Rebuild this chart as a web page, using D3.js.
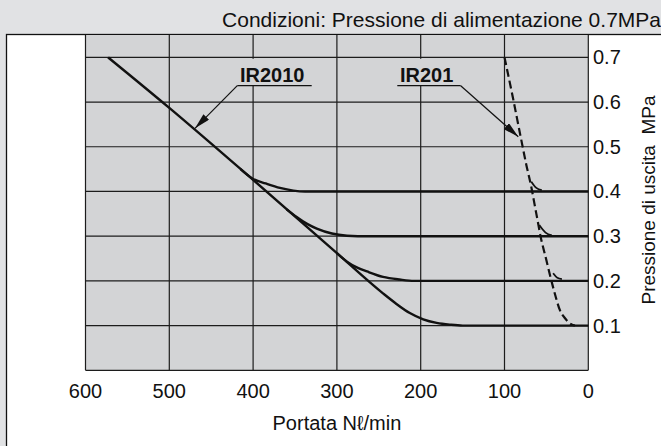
<!DOCTYPE html>
<html>
<head>
<meta charset="utf-8">
<script src="https://cdn.jsdelivr.net/npm/d3@7"></script>
<style>
  body { margin: 0; background: #e1e2e4; }
  svg { display: block; font-family: "Liberation Sans", Arial, sans-serif; }
</style>
</head>
<body>
<div id="chart"></div>
<script>
// Data (flow Nl/min, outlet pressure MPa)
const flowTicks = [600, 500, 400, 300, 200, 100, 0];
const pressureTicks = [0.1, 0.2, 0.3, 0.4, 0.5, 0.6, 0.7];

// IR2010 set curves
const ir2010_01 = [[573, 0.7], [500, 0.587], [400, 0.426], [300, 0.262], [245, 0.172], [230, 0.15], [213, 0.128], [197, 0.114], [181, 0.106], [165, 0.102], [150, 0.1], [0, 0.1]];
const ir2010_02 = [[300, 0.262], [288, 0.243], [275, 0.229], [264, 0.221], [245, 0.209], [225, 0.203], [208, 0.2], [0, 0.2]];
const ir2010_03 = [[360, 0.36], [348, 0.343], [335, 0.327], [324, 0.317], [306, 0.306], [288, 0.301], [275, 0.3], [0, 0.3]];
const ir2010_04 = [[415, 0.45], [400, 0.428], [385, 0.418], [368, 0.408], [352, 0.402], [338, 0.4], [0, 0.4]];

// IR201 (dashed) and its small set hooks
const ir201 = [[100, 0.7], [90, 0.61], [81, 0.525], [74, 0.46], [68, 0.41], [64, 0.37], [60.5, 0.335], [57, 0.3], [50.5, 0.25], [44, 0.2], [39, 0.165], [34, 0.135], [28, 0.117], [22, 0.105], [16, 0.1]];
const ir201_04 = [[68, 0.422], [62, 0.408], [55.5, 0.403]];
const ir201_03 = [[58.5, 0.325], [51, 0.308], [43.5, 0.302]];
const ir201_02 = [[42, 0.217], [37, 0.207], [31.5, 0.204]];

const title = "Condizioni: Pressione di alimentazione 0.7MPa";
const xTitle = "Portata N\u2113/min";
const yTitle = "Pressione di uscita  MPa";

const width = 661;
const height = 446;
const plot = { left: 85.5, right: 588.3, top: 35, bottom: 370.3 };
const plotFill = "#d3d4d6";
const ink = "#111";

function drawChart() {
  const svg = d3.select("#chart").append("svg")
    .attr("width", width)
    .attr("height", height);

  const xScale = d3.scaleLinear().domain([600, 0]).range([plot.left, plot.right]);
  const yScale = d3.scaleLinear().domain([0, 0.75]).range([plot.bottom, plot.top]);

  const defs = svg.append("defs");
  defs.append("marker")
    .attr("id", "arrow")
    .attr("viewBox", "0 0 16 8")
    .attr("refX", 16).attr("refY", 4)
    .attr("markerWidth", 16).attr("markerHeight", 8)
    .attr("markerUnits", "userSpaceOnUse")
    .attr("orient", "auto")
    .append("path")
    .attr("d", "M0,0L16,4L0,8Z")
    .attr("fill", ink);

  // background + white panel
  svg.append("rect").attr("width", width).attr("height", height).attr("fill", "#e1e2e4");
  svg.append("rect")
    .attr("x", 6.5).attr("y", 34.5)
    .attr("width", 700).attr("height", 500)
    .attr("fill", "#fff").attr("stroke", ink).attr("stroke-width", 1.3);

  // plot area
  svg.append("rect")
    .attr("x", plot.left).attr("y", plot.top)
    .attr("width", plot.right - plot.left).attr("height", plot.bottom - plot.top)
    .attr("fill", plotFill);

  // gridlines
  const grid = svg.append("g").attr("stroke", "#1c1c1c").attr("stroke-width", 1.2);
  grid.selectAll(".v").data(flowTicks).join("line")
    .attr("x1", (d) => xScale(d)).attr("x2", (d) => xScale(d))
    .attr("y1", plot.top).attr("y2", plot.bottom);
  grid.selectAll(".h").data(pressureTicks.concat([0])).join("line")
    .attr("x1", plot.left).attr("x2", plot.right)
    .attr("y1", (d) => yScale(d)).attr("y2", (d) => yScale(d));

  // tick labels
  svg.append("g").selectAll("text").data(flowTicks).join("text")
    .attr("x", (d) => xScale(d)).attr("y", 398)
    .attr("text-anchor", "middle")
    .attr("font-size", 20).attr("fill", ink)
    .text((d) => d);
  svg.append("g").selectAll("text").data(pressureTicks).join("text")
    .attr("x", 593).attr("y", (d) => yScale(d) + 7)
    .attr("font-size", 20).attr("fill", ink)
    .text((d) => d3.format(".1f")(d));

  // axis titles
  svg.append("text")
    .attr("x", (plot.left + plot.right) / 2).attr("y", 430)
    .attr("text-anchor", "middle").attr("font-size", 20).attr("fill", ink)
    .text(xTitle);
  svg.append("text")
    .attr("transform", "translate(655,200) rotate(-90)")
    .attr("text-anchor", "middle").attr("font-size", 19).attr("fill", ink)
    .style("white-space", "pre")
    .text(yTitle);
  svg.append("text")
    .attr("x", 661).attr("y", 26.5)
    .attr("text-anchor", "end").attr("font-size", 21).attr("fill", ink)
    .text(title);

  // curves
  const line = d3.line()
    .x((d) => xScale(d[0]))
    .y((d) => yScale(d[1]))
    .curve(d3.curveMonotoneX);

  const curves = svg.append("g").attr("fill", "none").attr("stroke", ink);
  [ir2010_04, ir2010_03, ir2010_02, ir2010_01].forEach((s) => {
    curves.append("path").attr("d", line(s)).attr("stroke-width", 2.4);
  });
  [ir201_04, ir201_03, ir201_02].forEach((s) => {
    curves.append("path").attr("d", line(s)).attr("stroke-width", 1.8);
  });
  curves.append("path")
    .attr("d", line(ir201))
    .attr("stroke-width", 2.2)
    .attr("stroke-dasharray", "8,4");

  // labels with leader arrows
  const labels = [
    { text: "IR2010", x0: 237.3, x1: 311.7, tx: 240, tip: [195, 128.3] },
    { text: "IR201", x0: 397.3, x1: 460.7, tx: 400, tip: [518.3, 136.7] },
  ];
  const lab = svg.append("g");
  labels.forEach((l, i) => {
    lab.append("rect")
      .attr("x", l.x0).attr("y", 58.8)
      .attr("width", l.x1 - l.x0).attr("height", 26.5)
      .attr("fill", plotFill);
    lab.append("text")
      .attr("x", l.tx).attr("y", 81.7)
      .attr("font-size", 20).attr("font-weight", "bold").attr("fill", ink)
      .text(l.text);
    lab.append("line")
      .attr("x1", l.x0).attr("x2", l.x1)
      .attr("y1", 85.7).attr("y2", 85.7)
      .attr("stroke", ink).attr("stroke-width", 1.3);
    const from = i === 0 ? l.x0 : l.x1;
    lab.append("line")
      .attr("x1", from).attr("y1", 85.7)
      .attr("x2", l.tip[0]).attr("y2", l.tip[1])
      .attr("stroke", ink).attr("stroke-width", 1.2)
      .attr("marker-end", "url(#arrow)");
  });
}

document.addEventListener("DOMContentLoaded", drawChart);
</script>
</body>
</html>
